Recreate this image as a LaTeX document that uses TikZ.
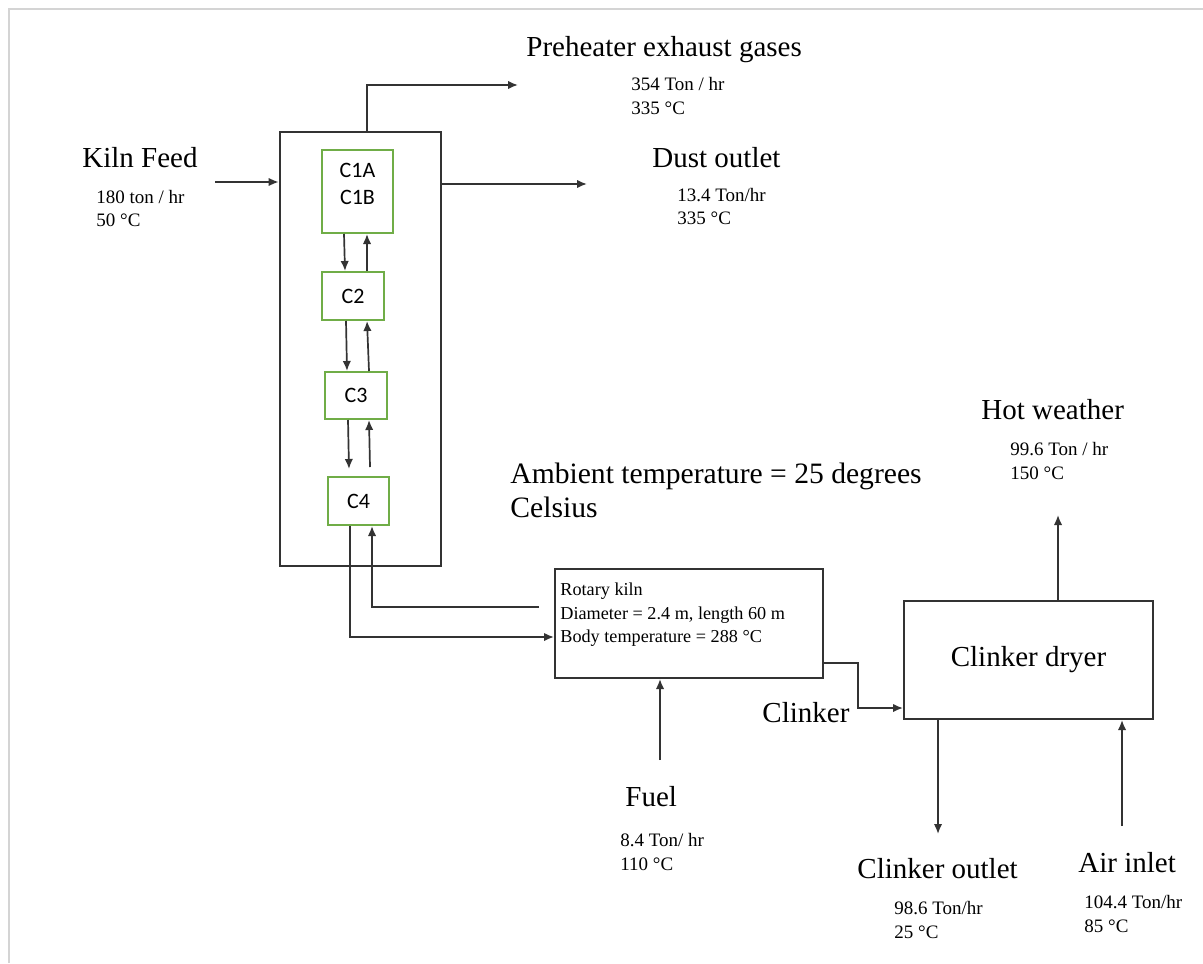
\documentclass[tikz,border=0pt]{standalone}
\usepackage{fontspec}
\setmainfont{Liberation Serif}
\newfontfamily\cycfont{Carlito}
\usetikzlibrary{arrows.meta}
\definecolor{cycgreen}{HTML}{70AD47}
\definecolor{linegray}{HTML}{333333}
\definecolor{framegray}{HTML}{D4D4D4}
\tikzset{
    unit/.style={draw=linegray, line width=1pt, rectangle, inner sep=0pt},
    cyclone/.style={draw=cycgreen, line width=1pt, rectangle, align=center, inner sep=0pt, font=\cycfont\fontsize{11}{13.5}\selectfont},
    title/.style={anchor=west, inner sep=0pt, font=\fontsize{14.5}{17}\selectfont},
    value/.style={anchor=west, inner sep=0pt, align=left, font=\fontsize{9.5}{12}\selectfont},
    arrow/.style={draw=linegray, line width=0.85pt, -{Latex[length=5pt,width=4.2pt]}}
}

\begin{document}
\begin{tikzpicture}[x=0.5pt,y=-0.5pt]
\useasboundingbox (0,0) rectangle (1203,963);
\draw[framegray, line width=1pt] (9,963) -- (9,9) -- (1203,9);

% preheater tower and cyclones
\node[unit, line width=1.3pt, minimum width=80.5pt, minimum height=217pt] (tower) at (360.5,349) {};
\node[cyclone, minimum width=35.5pt, minimum height=41.5pt] (c1) at (357.5,191.5) {C1A\\C1B\\[-5.5pt]};
\node[cyclone, minimum width=31pt, minimum height=24pt] (c2) at (353,296) {C2};
\node[cyclone, minimum width=31pt, minimum height=23.5pt] (c3) at (356,395.5) {C3};
\node[cyclone, minimum width=30.5pt, minimum height=24pt] (c4) at (358.5,501) {C4};

% kiln and dryer
\node[unit, minimum width=134pt, minimum height=54.5pt] (kiln) at (689,623.5) {};
\node[anchor=west, inner sep=0pt, align=left, font=\fontsize{9.1}{11.75}\selectfont] (kilntxt) at (560,615) {Rotary kiln\\Diameter = 2.4 m, length 60 m\\Body temperature = 288 °C};
\node[unit, minimum width=124.5pt, minimum height=59pt, font=\fontsize{14.5}{17}\selectfont] (dryer) at (1028.5,660) {Clinker dryer};

% stream labels
\node[title] (exhlbl) at (526,50) {Preheater exhaust gases};
\node[value] (exhval) at (631,96) {354 Ton / hr\\335 °C};
\node[title] (feedlbl) at (82,158) {Kiln Feed};
\node[value, font=\fontsize{9.5}{11.5}\selectfont] (feedval) at (96,208.5) {180 ton / hr\\50 °C};
\node[title] (dustlbl) at (652,158) {Dust outlet};
\node[value, font=\fontsize{9.5}{11.5}\selectfont] (dustval) at (677,206.5) {13.4 Ton/hr\\335 °C};
\node[title, align=left, font=\fontsize{14.8}{17}\selectfont] (ambient) at (510,490) {Ambient temperature = 25 degrees\\Celsius};
\node[title] (hotlbl) at (981,410) {Hot weather};
\node[value] (hotval) at (1010,461) {99.6 Ton / hr\\150 °C};
\node[title] (clklbl) at (762,713) {Clinker};
\node[title] (fuellbl) at (625,797) {Fuel};
\node[value] (fuelval) at (620,852) {8.4 Ton/ hr\\110 °C};
\node[title] (outlbl) at (857,869) {Clinker outlet};
\node[value] (outval) at (894,920) {98.6 Ton/hr\\25 °C};
\node[title] (airlbl) at (1078,863) {Air inlet};
\node[value] (airval) at (1084,914) {104.4 Ton/hr\\85 °C};

% free ends
\coordinate (exhend) at (518,85);
\coordinate (feedin) at (215,182);
\coordinate (dustend) at (587,184);
\coordinate (hotend) at (1058,515);
\coordinate (fuelin) at (660,760);
\coordinate (outend) at (938,834);
\coordinate (airin) at (1122,826);

% tower streams
\draw[arrow] ([xshift=3.25pt]tower.north) |- (exhend);
\draw[arrow] (feedin) -- (feedin -| tower.west);
\draw[arrow] (tower.east |- dustend) -- (dustend);

% cyclone cascade
\draw[arrow] ([xshift=-6.75pt]c1.south) -- ([xshift=-4pt]c2.north);
\draw[arrow] ([xshift=7pt]c2.north) -- ([xshift=4.75pt]c1.south);
\draw[arrow] ([xshift=-3.5pt]c2.south) -- ([xshift=-4.5pt]c3.north);
\draw[arrow] ([xshift=6.5pt]c3.north) -- ([xshift=7pt]c2.south);
\draw[arrow] ([xshift=-4pt]c3.south) -- ([xshift=-4.75pt,yshift=3.5pt]c4.north);
\draw[arrow] ([xshift=5.75pt,yshift=4.5pt]c4.north) -- ([xshift=6.5pt]c3.south);

% tower to kiln
\draw[arrow] ([xshift=-4.25pt]c4.south) |- ([yshift=-6.75pt]kiln.west);
\draw[arrow] ([xshift=-7.5pt,yshift=8.25pt]kiln.west) -| ([xshift=6.75pt]c4.south);

% kiln to dryer
\draw[arrow] ([yshift=-19.75pt]kiln.east) -- ++(17pt,0) |- ([yshift=-24pt]dryer.west);
\draw[arrow] (fuelin) -- (fuelin |- kiln.south);
\draw[arrow] (dryer.north -| hotend) -- (hotend);
\draw[arrow] (dryer.south -| outend) -- (outend);
\draw[arrow] (airin) -- (airin |- dryer.south);
\end{tikzpicture}
\end{document}
